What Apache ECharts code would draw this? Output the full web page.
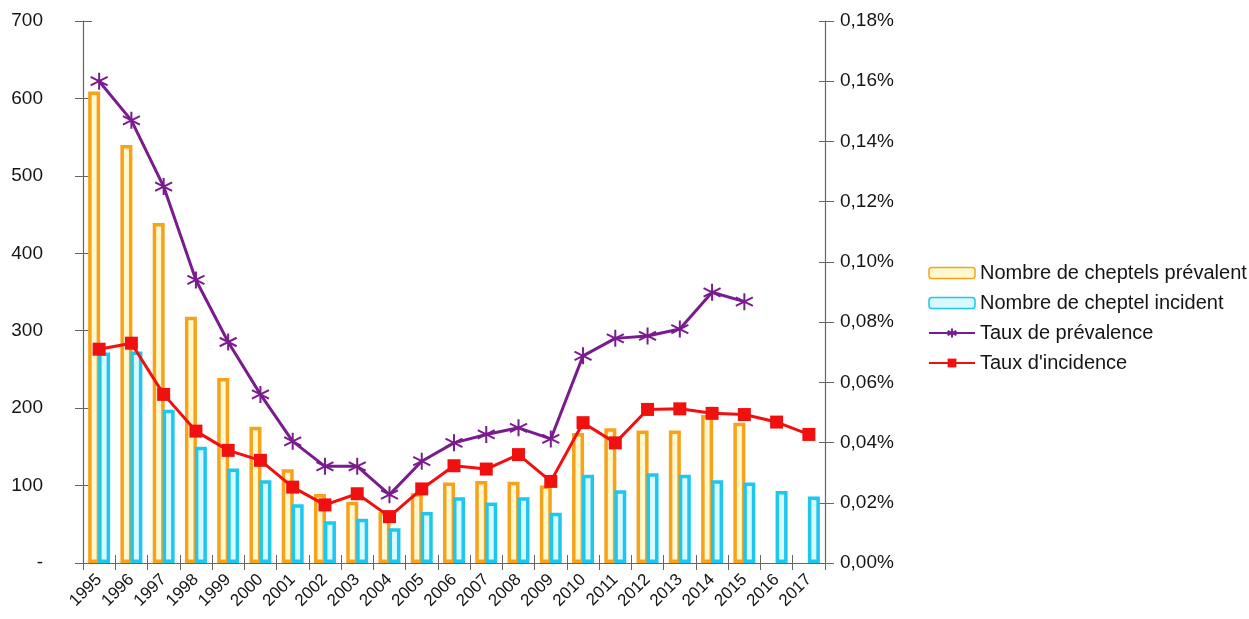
<!DOCTYPE html>
<html>
<head>
<meta charset="utf-8">
<script src="https://cdn.jsdelivr.net/npm/echarts@6/dist/echarts.min.js"></script>
<style>html,body{margin:0;padding:0;background:#fff;}#c{width:1249px;height:619px;}</style>
</head>
<body>
<div id="c"></div>
<script>
const years = ['1995','1996','1997','1998','1999','2000','2001','2002','2003','2004','2005','2006','2007','2008','2009','2010','2011','2012','2013','2014','2015','2016','2017'];
const cheptelsPrevalent = [609,540,439,318,239,176,121,89,79,66,90,104,106,105,100,168,174,171,171,191,181,null,null];
const cheptelIncident = [272,273,198,150,122,107,76,54,57,45,66,85,78,85,65,114,94,116,114,107,104,93,86];
const tauxPrevalence = [0.160,0.147,0.125,0.094,0.0734,0.056,0.0404,0.0321,0.0321,0.0227,0.0338,0.0399,0.0427,0.0449,0.0412,0.0688,0.0746,0.0754,0.0777,0.0899,0.0868,null,null];
const tauxIncidence = [0.071,0.073,0.056,0.0438,0.0374,0.0341,0.0252,0.0193,0.023,0.0154,0.0246,0.0323,0.0312,0.036,0.0271,0.0466,0.0399,0.051,0.0512,0.0497,0.0493,0.0468,0.0427];

const FONT = "'Liberation Sans', Arial, sans-serif";
const TXT = '#151515';
const AX = '#666666';
const chart = echarts.init(document.getElementById('c'), null, {renderer: 'canvas'});
const starPath = 'path://M5,0L5,10M0.7,2.5L9.3,7.5M0.7,7.5L9.3,2.5';

chart.setOption({
  animation: false,
  backgroundColor: '#ffffff',
  grid: {left: 83, right: 424, top: 21, bottom: 56, containLabel: false},
  legend: {
    orient: 'vertical', left: 923, top: 258,
    itemWidth: 46, itemHeight: 11, itemGap: 10,
    textStyle: {fontFamily: FONT, fontSize: 20, color: TXT},
    data: [
      {name: 'Nombre de cheptels prévalent', itemStyle: {borderWidth: 1.5}},
      {name: 'Nombre de cheptel incident', itemStyle: {borderWidth: 1.5}},
      {name: 'Taux de prévalence'},
      {name: "Taux d'incidence"}
    ]
  },
  xAxis: [
    {
      type: 'category', data: years, boundaryGap: true,
      axisLine: {lineStyle: {color: AX, width: 1.2}},
      axisTick: {show: true, length: 7, interval: 0, lineStyle: {color: AX}},
      axisLabel: {rotate: 45, fontFamily: FONT, fontSize: 17, color: TXT, margin: 14, interval: 0}
    },
    {
      type: 'category', data: years, boundaryGap: true, position: 'bottom',
      axisLine: {show: false},
      axisTick: {show: true, inside: true, length: 8, interval: 0, lineStyle: {color: AX}},
      axisLabel: {show: false, interval: 0}
    }
  ],
  yAxis: [
    {
      type: 'value', min: 0, max: 700, interval: 100, position: 'left',
      axisLine: {show: true, lineStyle: {color: AX, width: 1.2}},
      axisTick: {show: true, length: 8, lineStyle: {color: AX}},
      splitLine: {show: false},
      axisLabel: {fontFamily: FONT, fontSize: 19, color: TXT, margin: 40,
        formatter: v => v === 0 ? '-' : String(v)}
    },
    {
      type: 'value', min: 0, max: 0.18, interval: 0.02, position: 'right',
      axisLine: {show: true, lineStyle: {color: AX, width: 1.2}},
      axisTick: {show: true, length: 6, inside: true, lineStyle: {color: AX}},
      splitLine: {show: false},
      axisLabel: {fontFamily: FONT, fontSize: 19, color: TXT, margin: 15,
        formatter: v => v.toFixed(2).replace('.', ',') + '%'}
    },
    {
      type: 'value', min: 0, max: 700, interval: 100, position: 'left',
      axisLine: {show: false}, splitLine: {show: false}, axisLabel: {show: false},
      axisTick: {show: true, inside: true, length: 9, lineStyle: {color: AX}}
    },
    {
      type: 'value', min: 0, max: 0.18, interval: 0.02, position: 'right',
      axisLine: {show: false}, splitLine: {show: false}, axisLabel: {show: false},
      axisTick: {show: true, inside: false, length: 9, lineStyle: {color: AX}}
    }
  ],
  series: [
    {
      name: 'Nombre de cheptels prévalent', type: 'bar', yAxisIndex: 0,
      data: cheptelsPrevalent, barWidth: 12, barGap: '-17%',
      itemStyle: {color: '#FFF8D0', borderColor: '#F7A21B', borderWidth: 3.5}
    },
    {
      name: 'Nombre de cheptel incident', type: 'bar', yAxisIndex: 0,
      data: cheptelIncident, barWidth: 12,
      itemStyle: {color: '#D8FAFF', borderColor: '#1FC6EE', borderWidth: 3.5}
    },
    {
      name: 'Taux de prévalence', type: 'line', yAxisIndex: 1,
      data: tauxPrevalence, symbol: starPath, symbolSize: 17,
      lineStyle: {color: '#7A1B8E', width: 3},
      itemStyle: {color: 'rgba(0,0,0,0)', borderColor: '#7A1B8E', borderWidth: 2},
      connectNulls: false, z: 5
    },
    {
      name: "Taux d'incidence", type: 'line', yAxisIndex: 1,
      data: tauxIncidence, symbol: 'rect', symbolSize: 13,
      lineStyle: {color: '#F01010', width: 3},
      itemStyle: {color: '#F01010'}, z: 6
    }
  ]
});
</script>
</body>
</html>
